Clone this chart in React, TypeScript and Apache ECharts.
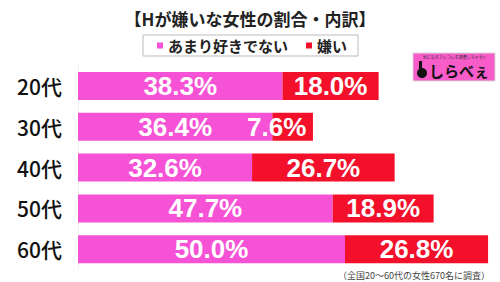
import React, { useEffect, useRef } from "react";
import * as echarts from "echarts";

const categories = ["20代", "30代", "40代", "50代", "60代"];
const notLikeValues = [38.3, 36.4, 32.6, 47.7, 50.0];
const dislikeValues = [18.0, 7.6, 26.7, 18.9, 26.8];
const seriesNames = ["あまり好きでない", "嫌い"];
const titleText = "【Hが嫌いな女性の割合・内訳】";
const footnote = "（全国20～60代の女性670名に調査）";

const PINK = "#f652d6";
const RED = "#f2102a";
const JP = "'Noto Sans CJK JP', sans-serif";

export default function App() {
  const ref = useRef<HTMLDivElement>(null);
  useEffect(() => {
    if (!ref.current) return;
    const chart = echarts.init(ref.current, null, { renderer: "svg" });
    const labelStyle = {
      show: true,
      position: "inside",
      color: "#fff",
      fontSize: 26,
      fontWeight: "bold",
      fontFamily: "'Liberation Sans', Arial, sans-serif",
      formatter: (p: any) => Number(p.value).toFixed(1) + "%",
    };
    chart.setOption({
      animation: false,
      backgroundColor: "#fff",
      title: {
        text: titleText,
        left: "center",
        top: 5,
        textStyle: { fontSize: 17, fontWeight: "bold", color: "#222", fontFamily: JP },
      },
      legend: {
        data: seriesNames,
        left: 143,
        top: 35,
        icon: "rect",
        itemWidth: 6,
        itemHeight: 6,
        itemGap: 18,
        padding: [3, 11, 3, 14],
        borderColor: "#bbb",
        borderWidth: 1,
        textStyle: { fontSize: 15, fontWeight: "bold", color: "#222", fontFamily: JP },
      },
      grid: { left: 78, top: 65.6, height: 204, width: 416.5 },
      xAxis: {
        type: "value",
        min: 0,
        max: 78,
        show: false,
      },
      yAxis: {
        type: "category",
        data: categories,
        inverse: true,
        axisLine: { show: true, lineStyle: { color: "#f0f0f0" } },
        axisTick: { show: false },
        axisLabel: { fontSize: 21, fontWeight: 500, color: "#111", margin: 16, fontFamily: JP },
      },
      series: [
        {
          name: seriesNames[0],
          type: "bar",
          stack: "total",
          barWidth: 28,
          itemStyle: { color: PINK },
          label: labelStyle,
          data: notLikeValues,
        },
        {
          name: seriesNames[1],
          type: "bar",
          stack: "total",
          barWidth: 28,
          itemStyle: { color: RED },
          label: labelStyle,
          data: dislikeValues.map((v, i) =>
            i === 1 ? { value: v, label: { offset: [-16, 0] } } : v
          ),
        },
      ],
      graphic: [
        {
          type: "rect",
          shape: { x: 413, y: 53, width: 82, height: 28 },
          style: { fill: "#f75cc8", stroke: "#d9d9d9", lineWidth: 1 },
        },
        {
          type: "text",
          x: 454,
          y: 57,
          style: {
            text: "気になるアレコレを調査しちゃう!!",
            fontSize: 4,
            fill: "#333",
            align: "center",
            verticalAlign: "middle",
            fontFamily: JP,
          },
        },
        {
          type: "ellipse",
          shape: { cx: 422, cy: 73, rx: 5, ry: 5 },
          style: { fill: "#111" },
        },
        {
          type: "rect",
          shape: { x: 419, y: 61, width: 3, height: 10 },
          style: { fill: "#111" },
        },
        {
          type: "text",
          x: 459,
          y: 70,
          style: {
            text: "しらべぇ",
            fontSize: 15,
            fontWeight: "bold",
            fill: "#111",
            align: "center",
            verticalAlign: "middle",
            fontFamily: JP,
          },
        },
        {
          type: "text",
          x: 490,
          y: 275,
          style: {
            text: footnote,
            fontSize: 9,
            fill: "#444",
            align: "right",
            verticalAlign: "middle",
            fontFamily: JP,
          },
        },
      ],
    });
    return () => chart.dispose();
  }, []);
  return <div ref={ref} style={{ width: 500, height: 282, position: "absolute", left: 0, top: 0 }} />;
}
